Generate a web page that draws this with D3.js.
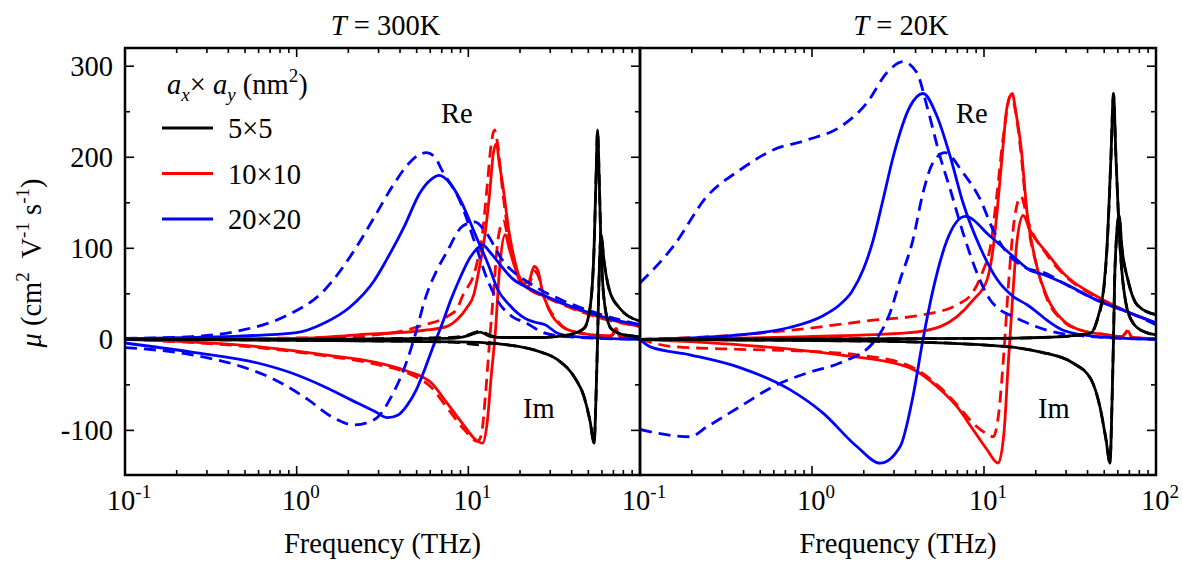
<!DOCTYPE html>
<html>
<head>
<meta charset="utf-8">
<script src="https://cdn.jsdelivr.net/npm/d3@7"></script>
<style>
  body { margin: 0; background: #fff; }
  svg text { font-family: "Liberation Serif", "Times New Roman", Times, serif; fill: #000; }
</style>
</head>
<body>
<div id="chart"></div>
<script>
// axis values
const freqDomain = [0.1, 100];
const muDomain = [-149, 320];
const yMajor = [-100, 0, 100, 200, 300];
const yMinor = [-50, 50, 150, 250];
const panelTitles = ["300K", "20K"];
const sizeLabels = ["5\u00d75", "10\u00d710", "20\u00d720"];
const sizeColors = ["#000000", "#ff0000", "#0000ff"];

// T = 300K, [frequency (THz), mu]
const re5s300 = [[0.1,0],[1,0],[8,1],[10,4],[11.7,8],[13.5,3],[16,2],[25.9,2],[38.6,5],[47.2,12],[51.2,35],[54,100],[55.5,180],[56.6,230],[57.8,180],[59.3,100],[62.6,35],[67.8,12],[80.7,5],[100,3]];
const im5s300 = [[0.1,0],[1,-1],[10,-3],[16.9,-6],[26.5,-14],[32.9,-22],[41.3,-41],[47.2,-63],[51.2,-90],[54,-114],[55.5,-60],[56.6,0],[57.8,70],[59.3,115],[61.8,85],[66.1,55],[75.5,35],[100,20]];
const re5d300 = [[0.1,0],[1,0],[8,2],[10,5],[11.7,9],[13.5,4],[16,2],[25.9,2],[38.6,5],[47.2,12],[51.2,35],[54,100],[55.5,180],[56.6,228],[57.8,180],[59.3,100],[62.6,35],[67.8,12],[80.7,5],[100,3]];
const im5d300 = [[0.1,0],[1,-1],[8,-3],[11.7,-6],[13.5,-4],[16.9,-6],[26.5,-14],[32.9,-22],[41.3,-41],[47.2,-63],[51.2,-90],[54,-113],[55.5,-60],[56.6,0],[57.8,70],[59.3,114],[61.8,85],[66.1,55],[75.5,35],[100,20]];
const re10s300 = [[0.1,0],[1,1],[2.26,5],[5.57,10],[7.45,14],[8.63,22],[9.73,34],[10.8,50],[11.5,75],[12.5,115],[13.3,160],[14,205],[14.6,215],[15.1,195],[15.8,172],[17.3,117],[19,80],[20.6,62],[22.3,62],[24.2,80],[25.5,75],[26.9,54],[29.6,32],[35.2,14],[44.2,7],[61.8,4],[68.7,4],[72.5,10],[76.5,3],[100,1]];
const im10s300 = [[0.1,0],[0.593,-8],[1.45,-17],[2.84,-25],[4.42,-35],[6.1,-48],[7.52,-70],[9.55,-96],[11,-110],[12.1,-114],[12.9,-90],[13.6,-40],[14.4,10],[15.1,70],[16.4,115],[17.3,100],[19,75],[20.6,62],[22.6,55],[28.4,47],[44.2,32],[68.7,21],[100,14]];
const re10d300 = [[0.1,0],[1.45,2],[3.56,7],[5.57,16],[7.52,25],[8.63,34],[9.22,47],[11.1,80],[12.1,117],[12.9,170],[13.6,215],[14.2,230],[14.8,215],[15.8,165],[17.3,110],[19,75],[20.6,60],[22.3,58],[24.2,75],[25.5,70],[27.7,45],[31.6,25],[38.6,10],[61.8,4],[68.7,5],[72.5,12],[76.5,3],[100,1]];
const im10d300 = [[0.1,0],[0.593,-9],[1.45,-18],[2.84,-27],[4.42,-37],[6.1,-53],[7.52,-75],[9.55,-100],[11.3,-112],[11.9,-105],[12.6,-60],[13.2,-10],[14,50],[14.9,110],[16,130],[17.3,105],[19,78],[20.6,62],[22.6,55],[28.4,46],[44.2,31],[68.7,20],[100,14]];
const re20s300 = [[0.1,1],[0.381,3],[0.975,7],[1.45,18],[2.03,35],[2.84,65],[3.33,87],[4.26,125],[5.19,160],[6.1,176],[6.78,180],[7.77,172],[8.88,155],[11.1,113],[13.2,80],[14.8,55],[17.3,38],[21.4,23],[24.2,19],[28,16],[32.9,7],[41.9,3],[100,0]];
const im20s300 = [[0.1,-4],[0.245,-14],[0.593,-26],[0.935,-37],[1.45,-52],[2.26,-70],[2.84,-79],[3.38,-86],[3.9,-83],[4.42,-72],[4.99,-55],[5.57,-33],[6.18,-10],[6.97,15],[7.97,45],[8.88,66],[10.1,88],[11.3,100],[12.1,104],[13.2,97],[14.6,87],[18,67],[22.6,56],[28.4,47],[44.2,33],[68.7,22],[100,16]];
const re20d300 = [[0.1,1],[0.245,3],[0.479,10],[0.85,25],[1.45,54],[2.12,95],[2.77,131],[3.61,168],[4.54,194],[5.19,203],[5.7,205],[6.38,200],[7.06,185],[8.88,153],[11.1,102],[12.7,69],[15.1,40],[18,25],[21.7,18],[26.9,8],[37.1,3],[100,0]];
const im20d300 = [[0.1,-9],[0.245,-17],[0.479,-30],[0.74,-44],[1.16,-66],[1.6,-85],[2.17,-94],[2.84,-88],[3.56,-63],[4.42,-22],[4.99,10],[5.57,43],[6.52,75],[7.45,95],[9.22,124],[10.9,129],[12.7,117],[15.8,87],[22.6,62],[35.2,43],[55.5,29],[100,16]];

// T = 20K
const re5s20 = [[0.1,0],[10,1],[21.4,2],[32.9,4],[41.9,7],[45.4,21],[49.9,60],[51.9,102],[54.7,200],[56.6,270],[58.5,200],[61.8,102],[66.1,45],[73.5,18],[86.3,8],[100,5]];
const im5s20 = [[0.1,0],[2.26,-2],[13.6,-8],[21.4,-14],[32.9,-26],[41.9,-44],[47.2,-74],[51.2,-110],[54,-136],[55.5,-70],[56.6,0],[57.8,80],[61,136],[63.4,100],[68.7,65],[77.6,38],[100,27]];
const re5d20 = [[0.1,0],[10,1],[21.4,2],[32.9,4],[41.9,7],[45.4,20],[49.9,58],[51.9,100],[54.7,198],[56.6,268],[58.5,200],[61.8,102],[66.1,45],[73.5,18],[86.3,8],[100,5]];
const im5d20 = [[0.1,0],[2.26,-2],[13.6,-8],[21.4,-14],[32.9,-26],[41.9,-44],[47.2,-74],[51.2,-110],[54,-135],[55.5,-70],[56.6,0],[57.8,80],[61,135],[63.4,100],[68.7,65],[77.6,38],[100,27]];
const re10s20 = [[0.1,0],[0.935,3],[3.56,7],[5.57,14],[6.97,25],[8.63,43],[10.4,65],[11.3,100],[11.9,139],[12.9,212],[13.6,255],[14.6,270],[15.3,250],[16.4,212],[17.8,139],[20.3,80],[23.2,47],[28.8,21],[36.6,10],[51.9,5],[63.4,3],[68.7,9],[72.5,2],[100,1]];
const im10s20 = [[0.1,0],[0.381,-6],[1.45,-17],[3.56,-30],[5.57,-55],[6.97,-74],[8.63,-99],[10.4,-121],[12.1,-136],[13.1,-100],[13.8,-30],[14.6,40],[15.6,110],[16.9,136],[18.5,120],[23.2,95],[28.8,73],[45.4,47],[70.7,29],[100,18]];
const re10d20 = [[0.1,0],[0.381,5],[0.935,12],[2.26,21],[4.42,27],[6.97,38],[8.63,52],[9.86,75],[10.9,102],[11.9,160],[12.9,220],[14.3,268],[15.1,255],[16.4,205],[17.8,135],[20.3,80],[23.2,45],[28.8,20],[36.6,10],[51.9,5],[63.4,3],[68.7,10],[72.5,2],[100,1]];
const im10d20 = [[0.1,0],[0.156,-8],[0.381,-11],[0.935,-13],[1.83,-17],[3.56,-28],[5.57,-53],[6.97,-72],[8.63,-92],[10.4,-104],[11.3,-107],[12.2,-80],[13.1,-10],[14,70],[15.1,135],[16.4,157],[18,130],[23.2,93],[28.8,72],[45.4,46],[70.7,29],[100,18]];
const re20s20 = [[0.1,0],[0.381,5],[0.74,13],[1.16,26],[1.45,38],[1.7,52],[2,78],[2.26,108],[2.6,155],[2.96,200],[3.72,256],[4.42,270],[5.33,245],[6.38,200],[7.55,150],[9.55,100],[11.9,66],[14.8,47],[17.8,38],[20.3,30],[23.2,21],[28.8,10],[45.4,3],[100,0]];
const im20s20 = [[0.1,0],[0.114,-8],[0.195,-17],[0.381,-31],[0.74,-55],[1.16,-81],[1.83,-118],[2.49,-136],[3.25,-118],[3.86,-63],[4.42,0],[5.05,54],[6.1,109],[7.77,135],[10.9,113],[14.8,91],[18.5,76],[21.4,72],[28.8,62],[45.4,43],[70.7,29],[100,18]];
const re20d20 = [[0.1,62],[0.156,102],[0.245,157],[0.381,186],[0.593,208],[0.935,219],[1.45,233],[2.09,260],[2.73,293],[3.38,305],[4.07,293],[4.66,256],[5.57,200],[6.38,164],[7.55,117],[9.1,73],[10.9,43],[12.5,32],[14.8,25],[16.4,21],[23.2,10],[32,5],[100,0]];
const im20d20 = [[0.1,-99],[0.195,-107],[0.245,-96],[0.381,-74],[0.593,-52],[0.935,-37],[1.45,-26],[2.26,-4],[2.84,29],[3.25,65],[3.86,109],[4.42,161],[5.05,194],[5.93,205],[7.55,183],[9.55,153],[11.3,120],[13.6,95],[16.9,80],[23.2,72],[28.8,62],[45.4,43],[70.7,29],[100,16]];

const panelSeries = [
  [ [re10s300, 1, false], [im10s300, 1, false], [re10d300, 1, true], [im10d300, 1, true],
    [re20s300, 2, false], [im20s300, 2, false], [re20d300, 2, true], [im20d300, 2, true],
    [re5d300, 0, true], [im5d300, 0, true], [re5s300, 0, false], [im5s300, 0, false] ],
  [ [re10s20, 1, false], [im10s20, 1, false], [re10d20, 1, true], [im10d20, 1, true],
    [re20s20, 2, false], [im20s20, 2, false], [re20d20, 2, true], [im20d20, 2, true],
    [re5d20, 0, true], [im5d20, 0, true], [re5s20, 0, false], [im5s20, 0, false] ]
];

const W = 1183, H = 563;
const plotTop = 48, plotBottom = 475;
const panelX = [[125, 640], [640, 1156]];
const fs = 28.5;
const supFs = 19;

const svg = d3.select("#chart").append("svg")
  .attr("width", W).attr("height", H);

const y = d3.scaleLinear().domain(muDomain).range([plotBottom, plotTop]);

function supLabel(sel, base, sup) {
  sel.append("tspan").text(base);
  sel.append("tspan").attr("dy", -12).style("font-size", supFs + "px").text(sup);
}

panelSeries.forEach((series, p) => {
  const [x0, x1] = panelX[p];
  const x = d3.scaleLog().domain(freqDomain).range([x0, x1]);
  const g = svg.append("g");

  svg.append("clipPath").attr("id", "clip" + p)
    .append("rect").attr("x", x0).attr("y", plotTop).attr("width", x1 - x0).attr("height", plotBottom - plotTop);

  const line = d3.line()
    .x(d => x(d[0]))
    .y(d => y(d[1]))
    .curve(d3.curveMonotoneX);

  const lines = g.append("g").attr("clip-path", `url(#clip${p})`);
  series.forEach(([data, c, dashed]) => {
    lines.append("path")
      .datum(data)
      .attr("fill", "none")
      .attr("stroke", sizeColors[c])
      .attr("stroke-width", 2.8)
      .attr("stroke-linejoin", "round")
      .attr("stroke-dasharray", dashed ? "12,7" : null)
      .attr("d", line);
  });

  // ticks
  const majorX = [0.1, 1, 10, 100];
  const minorX = [];
  for (let d = 0.1; d < 100; d *= 10) for (let k = 2; k <= 9; k++) minorX.push(+(d * k).toPrecision(3));

  const tickG = g.append("g").attr("stroke", "#000").attr("stroke-width", 1.6);
  majorX.forEach(v => {
    tickG.append("line").attr("x1", x(v)).attr("x2", x(v)).attr("y1", plotBottom).attr("y2", plotBottom - 9);
    tickG.append("line").attr("x1", x(v)).attr("x2", x(v)).attr("y1", plotTop).attr("y2", plotTop + 9);
  });
  minorX.forEach(v => {
    tickG.append("line").attr("x1", x(v)).attr("x2", x(v)).attr("y1", plotBottom).attr("y2", plotBottom - 5);
    tickG.append("line").attr("x1", x(v)).attr("x2", x(v)).attr("y1", plotTop).attr("y2", plotTop + 5);
  });
  yMajor.forEach(v => {
    if (p === 0) tickG.append("line").attr("x1", x0).attr("x2", x0 + 9).attr("y1", y(v)).attr("y2", y(v));
    tickG.append("line").attr("x1", x1).attr("x2", x1 - 9).attr("y1", y(v)).attr("y2", y(v));
  });
  yMinor.forEach(v => {
    if (p === 0) tickG.append("line").attr("x1", x0).attr("x2", x0 + 5).attr("y1", y(v)).attr("y2", y(v));
    tickG.append("line").attr("x1", x1).attr("x2", x1 - 5).attr("y1", y(v)).attr("y2", y(v));
  });

  // frame
  g.append("rect")
    .attr("x", x0).attr("y", plotTop).attr("width", x1 - x0).attr("height", plotBottom - plotTop)
    .attr("fill", "none").attr("stroke", "#000").attr("stroke-width", 2.5);

  // x tick labels
  const labX = p === 0 ? [0.1, 1, 10] : majorX;
  labX.forEach(v => {
    const t = g.append("text")
      .attr("x", x(v) + 4).attr("y", 510)
      .attr("text-anchor", "middle")
      .style("font-size", fs + "px");
    supLabel(t, "10", String(Math.round(Math.log10(v))));
  });

  // x title
  g.append("text")
    .attr("x", (x0 + x1) / 2).attr("y", 553)
    .attr("text-anchor", "middle")
    .style("font-size", fs + "px")
    .text("Frequency (THz)");

  // panel title
  const tt = g.append("text")
    .attr("x", (x0 + x1) / 2 + 3).attr("y", 35)
    .attr("text-anchor", "middle")
    .style("font-size", fs + "px");
  tt.append("tspan").style("font-style", "italic").text("T");
  tt.append("tspan").text(" = " + panelTitles[p]);

  // Re / Im tags
  g.append("text").attr("x", x0 + 316).attr("y", 123)
    .style("font-size", fs + "px").text("Re");
  g.append("text").attr("x", x0 + 398).attr("y", 418)
    .style("font-size", fs + "px").text("Im");
});

// y tick labels
yMajor.forEach(v => {
  svg.append("text")
    .attr("x", 113).attr("y", y(v) + 10)
    .attr("text-anchor", "end")
    .style("font-size", fs + "px")
    .text(v < 0 ? "-" + Math.abs(v) : v);
});

// y title
const yt = svg.append("text")
  .attr("transform", "translate(41,263) rotate(-90)")
  .attr("text-anchor", "middle")
  .style("font-size", fs + "px");
yt.append("tspan").style("font-style", "italic").text("\u03bc");
yt.append("tspan").text(" (cm");
yt.append("tspan").attr("dy", -12).style("font-size", supFs + "px").text("2");
yt.append("tspan").attr("dy", 12).text("\u00a0 V");
yt.append("tspan").attr("dy", -12).style("font-size", supFs + "px").text("-1");
yt.append("tspan").attr("dy", 12).text(" s");
yt.append("tspan").attr("dy", -12).style("font-size", supFs + "px").text("-1");
yt.append("tspan").attr("dy", 12).text(")");

// legend
const lg = svg.append("text").attr("x", 167).attr("y", 94).style("font-size", fs + "px");
lg.append("tspan").style("font-style", "italic").text("a");
lg.append("tspan").attr("dy", 7).style("font-size", supFs + "px").style("font-style", "italic").text("x");
lg.append("tspan").attr("dy", -7).text("\u00d7 ");
lg.append("tspan").style("font-style", "italic").text("a");
lg.append("tspan").attr("dy", 7).style("font-size", supFs + "px").style("font-style", "italic").text("y");
lg.append("tspan").attr("dy", -7).text(" (nm");
lg.append("tspan").attr("dy", -12).style("font-size", supFs + "px").text("2");
lg.append("tspan").attr("dy", 12).text(")");

sizeLabels.forEach((s, i) => {
  const ly = 128 + i * 45.5;
  svg.append("line")
    .attr("x1", 162).attr("x2", 213).attr("y1", ly).attr("y2", ly)
    .attr("stroke", sizeColors[i]).attr("stroke-width", 3);
  svg.append("text")
    .attr("x", 228).attr("y", ly + 10)
    .style("font-size", fs + "px")
    .text(s);
});
</script>
</body>
</html>
